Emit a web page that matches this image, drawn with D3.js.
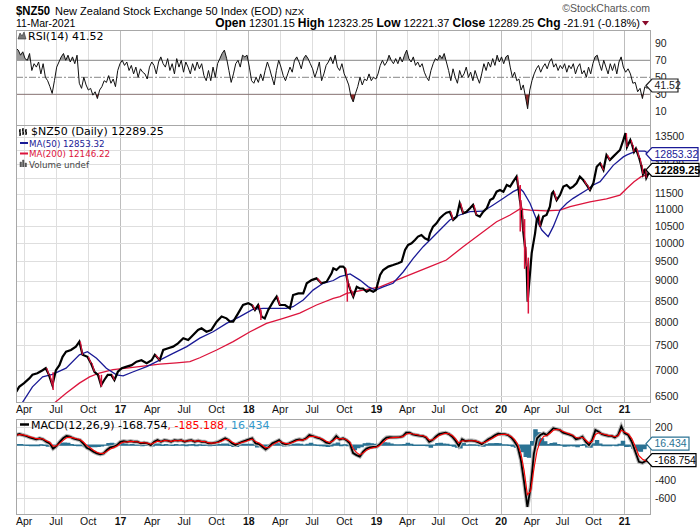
<!DOCTYPE html>
<html><head><meta charset="utf-8">
<script src="https://cdn.jsdelivr.net/npm/d3@7/dist/d3.min.js"></script>
<style>
body{margin:0;background:#fff;}
svg text{font-family:"Liberation Sans",Arial,sans-serif;}
svg text.dv{font-family:"DejaVu Sans",Verdana,sans-serif;}
</style></head><body>
<svg id="chart" width="700" height="530"></svg>
<script>
// ---------------- DATA ----------------
const priceDates=["2016-03-11","2016-03-19","2016-04-02","2016-04-17","2016-04-26","2016-05-10","2016-05-25","2016-06-03","2016-06-12","2016-06-22","2016-07-02","2016-07-12","2016-07-21","2016-07-31","2016-08-14","2016-08-28","2016-09-07","2016-09-16","2016-09-30","2016-10-10","2016-10-20","2016-10-30","2016-11-08","2016-11-17","2016-11-27","2016-12-07","2016-12-16","2016-12-26",
"2017-01-06","2017-01-20","2017-02-03","2017-02-17","2017-03-03","2017-03-18","2017-04-01","2017-04-10","2017-04-24","2017-05-04","2017-05-18","2017-06-01","2017-06-15","2017-06-30","2017-07-14","2017-07-28","2017-08-11","2017-08-21","2017-09-04","2017-09-18","2017-10-03","2017-10-17","2017-10-31","2017-11-10","2017-11-19","2017-12-03","2017-12-17",
"2018-01-01","2018-01-11","2018-01-20","2018-01-29","2018-02-08","2018-02-17","2018-02-27","2018-03-13","2018-03-23","2018-04-01","2018-04-16","2018-04-30","2018-05-09","2018-05-24","2018-06-07","2018-06-17","2018-07-01","2018-07-15","2018-07-29","2018-08-13","2018-08-27","2018-09-01","2018-09-10","2018-09-20","2018-09-29","2018-10-04","2018-10-13","2018-10-20","2018-10-28","2018-11-07","2018-11-16","2018-11-25","2018-12-05","2018-12-14","2018-12-24",
"2019-01-01","2019-01-13","2019-01-22","2019-02-06","2019-02-20","2019-03-07","2019-03-17","2019-03-27","2019-04-05","2019-04-15","2019-04-25","2019-05-04","2019-05-14","2019-05-24","2019-06-03","2019-06-08","2019-06-17","2019-06-27","2019-07-07","2019-07-17","2019-07-26","2019-08-05","2019-08-15","2019-08-25","2019-09-03","2019-09-13","2019-09-23","2019-10-03","2019-10-12","2019-10-22","2019-11-01","2019-11-11","2019-11-21","2019-12-01","2019-12-10","2019-12-20","2019-12-30",
"2020-01-09","2020-01-19","2020-01-29","2020-02-07","2020-02-17","2020-02-22","2020-02-27","2020-03-03","2020-03-08","2020-03-13","2020-03-18","2020-03-21","2020-03-28","2020-04-02","2020-04-07","2020-04-12","2020-04-17","2020-04-22","2020-04-27","2020-05-06","2020-05-16","2020-05-26","2020-06-01","2020-06-05","2020-06-15","2020-06-25","2020-07-05","2020-07-15","2020-07-25","2020-08-03","2020-08-13","2020-08-23","2020-09-02","2020-09-12","2020-09-22","2020-10-02","2020-10-12","2020-10-22","2020-11-01","2020-11-10","2020-11-20","2020-11-30","2020-12-10","2020-12-20","2020-12-30",
"2021-01-05","2021-01-09","2021-01-18","2021-01-23","2021-01-28","2021-02-02","2021-02-11","2021-02-16","2021-02-21","2021-02-26","2021-03-02","2021-03-07","2021-03-11"];
const priceClose=[6580,6670,6740,6830,6900,6930,6990,7030,6900,6700,6990,7090,7260,7365,7400,7470,7575,7300,7260,7130,6960,6900,6700,6800,6900,6900,6800,6960,
7030,7060,7090,7160,7190,7130,7190,7300,7190,7400,7435,7470,7540,7650,7610,7720,7830,7865,7790,7830,8015,8130,8090,8015,8015,8205,8400,
8440,8400,8285,8400,8130,8090,8285,8480,8600,8400,8400,8320,8640,8680,8680,8930,9010,9055,8930,8970,9185,9315,9270,9360,9360,9315,8930,8760,8600,8840,8800,8800,8720,8760,8720,
8760,9140,9270,9360,9400,9450,9490,9810,9950,9995,10090,10185,10230,10135,10090,10280,10475,10575,10725,10825,10895,10925,10675,10775,11190,10880,10925,11030,11135,10825,10775,10925,11030,11290,11345,11560,11615,
11560,11780,11725,11890,12060,11725,11290,10975,10330,9900,9360,8480,9185,9720,10000,10280,10675,10775,10475,10775,10825,11080,11505,11560,11290,11450,11725,11780,11670,11725,11835,12060,11945,11780,11615,11835,12400,12520,12290,12820,12640,12760,12880,13000,13370,
13630,13110,13370,13185,12930,13050,12710,12460,12150,12330,12020,12150,12289.25];

// notable intraday ranges (sell-off spikes)
const spikeDates=["2016-06-24","2016-11-09","2018-02-06","2018-10-11","2020-02-28","2020-03-12","2020-03-23"];
const spikeHigh=[6950,6900,8290,9100,11780,10700,9600];
const spikeLow=[6611,6670,8050,8480,10330,9300,8200];

const ma50Dates=["2016-03-20","2016-04-26","2016-05-25","2016-06-22","2016-07-31","2016-09-07","2016-09-30","2016-10-26","2016-11-23","2016-12-22","2017-01-10","2017-02-08","2017-03-18","2017-04-24","2017-06-01","2017-07-10","2017-08-16","2017-09-23","2017-10-31","2017-12-08","2018-01-15","2018-02-13","2018-03-13","2018-04-20","2018-05-09","2018-06-07","2018-07-05","2018-08-03","2018-09-01","2018-09-20","2018-10-19","2018-11-16","2018-12-10","2018-12-31","2019-01-22","2019-02-20","2019-03-22","2019-04-20","2019-05-19","2019-06-08","2019-07-07","2019-08-05","2019-09-03","2019-10-03","2019-11-11","2019-12-10","2020-01-09","2020-02-07","2020-02-27","2020-03-08","2020-03-28","2020-04-17","2020-05-02","2020-05-21","2020-06-05","2020-06-25","2020-07-15","2020-08-03","2020-09-12","2020-10-02","2020-10-22","2020-11-30","2020-12-30","2021-01-09","2021-02-02","2021-02-26","2021-03-11"];
const ma50Values=[6300,6670,6860,6910,7030,7300,7365,7230,7030,6900,6880,6960,7060,7190,7330,7470,7650,7790,7975,8130,8300,8320,8320,8320,8360,8520,8760,8930,9000,9100,9170,9010,8840,8760,8840,8930,9225,9580,9900,10090,10375,10675,10825,10925,10940,11135,11345,11560,11670,11560,11190,10675,10375,10185,10475,10975,11190,11345,11615,11779,11890,12450,12750,12820,12960,12960,12853.32];

const ma200Dates=["2016-06-27","2016-07-31","2016-09-07","2016-10-06","2016-11-03","2016-12-12","2017-01-20","2017-03-08","2017-04-24","2017-06-11","2017-07-19","2017-08-16","2017-10-03","2017-11-19","2018-01-06","2018-02-22","2018-04-11","2018-05-28","2018-07-15","2018-09-01","2018-09-20","2018-10-09","2018-11-25","2019-01-13","2019-03-02","2019-04-20","2019-06-08","2019-07-26","2019-09-13","2019-11-01","2019-12-20","2020-01-29","2020-02-27","2020-03-28","2020-05-16","2020-06-25","2020-07-25","2020-09-22","2020-11-10","2020-12-20","2021-01-09","2021-01-28","2021-02-16","2021-03-11"];
const ma200Values=[6370,6550,6740,6860,6935,7000,7030,7070,7110,7135,7160,7240,7400,7575,7790,7975,8090,8210,8400,8560,8600,8680,8760,8840,9010,9185,9360,9535,9900,10250,10620,10825,11010,10975,10950,10975,11080,11230,11330,11450,11670,11890,12060,12146.22];

// RSI(14), evenly spaced over the period
const rsiValues=[84,82,76,80,72,70,78,58,66,62,68,54,66,50,46,39,31,46,62,68,
74,78,70,76,68,74,66,76,43,37,50,41,35,37,29,33,25,35,39,46,
44,52,43,48,39,58,66,70,64,68,58,64,54,62,50,60,56,54,48,62,
68,64,54,68,74,66,62,72,58,66,54,72,62,70,56,68,62,54,66,58,
68,60,66,52,46,58,46,62,50,66,72,78,82,72,58,44,54,66,70,62,
76,74,76,62,46,43,50,44,54,46,58,68,60,50,41,58,70,62,52,46,
54,62,56,70,74,68,60,72,76,72,66,60,50,58,68,46,54,64,68,74,
66,76,62,58,66,54,48,41,27,21,31,39,50,41,48,46,54,46,50,48,
54,64,70,64,68,76,70,66,72,66,74,68,76,82,72,68,74,64,68,62,
66,56,50,46,58,66,72,70,76,72,78,68,58,46,60,50,43,58,50,54,
62,50,56,46,58,50,43,54,66,58,68,62,72,64,76,68,74,66,74,76,
62,50,56,46,48,35,41,27,13,35,46,54,60,64,56,62,66,60,68,72,
62,66,58,64,60,66,56,64,60,66,54,62,66,54,58,50,62,54,66,74,
76,66,58,70,62,54,66,58,66,54,68,74,62,56,60,54,43,44,33,37,
25,39,37,41.52];

// MACD(12,26,9) line and signal, evenly spaced over the period
const macdValues=[113,124,113,102,87,76,64,76,64,37,19,-40,-11,37,76,102,94,76,64,56,
15,-30,-49,-76,-94,-105,-94,-56,-26,-19,0,37,45,37,45,37,37,19,26,19,
0,37,56,37,56,49,37,56,49,56,37,49,56,37,49,37,37,19,19,26,
37,56,76,56,19,0,19,37,49,64,76,19,11,-19,-49,-19,19,37,56,19,
8,19,37,56,64,56,76,113,102,87,76,56,26,19,56,102,64,76,56,19,
-90,-113,-130,-75,-38,-26,-22,-19,10,56,85,90,87,87,90,100,140,140,120,113,
105,102,85,35,56,94,124,132,139,124,94,49,-10,65,45,50,50,45,30,10,
37,65,85,110,128,122,122,113,85,40,-20,-170,-420,-697,-480,-100,76,113,132,113,
150,190,180,170,140,128,118,103,65,76,94,37,0,56,169,150,122,113,103,103,
85,113,210,132,113,37,-76,-189,-200,-177,-168.754];
const signalValues=[108,118,115,107,95,84,72,74,68,49,31,-12,-11,18,53,82,89,81,71,62,
34,-4,-31,-58,-80,-95,-94,-71,-44,-29,-12,17,34,36,41,39,38,27,26,22,
9,26,44,40,50,49,42,50,49,53,43,47,52,43,47,41,39,27,22,24,
32,46,64,59,35,14,17,29,41,55,68,39,22,-3,-31,-24,2,23,43,29,
16,18,29,45,56,56,68,95,99,92,82,66,42,28,45,79,70,74,63,37,
-39,-83,-111,-89,-58,-39,-29,-23,-3,32,64,80,84,86,88,95,122,133,125,118,
110,105,93,58,57,79,106,122,132,127,107,72,23,48,46,48,49,47,37,21,
31,51,71,94,114,119,121,116,97,63,13,-97,-291,-560,-520,-270,-62,42,96,107,
133,167,175,172,153,138,126,112,84,79,88,57,23,43,119,138,128,119,109,105,
93,105,168,146,126,73,-16,-120,-160,-180,-185.188];

const priceTicks=[6500,7000,7500,8000,8500,9000,9500,10000,10500,11000,11500,12000,12500,13000,13500];
const priceLabels=[6500,7000,7500,8000,8500,9000,9500,10000,10500,11000,11500,12500,13500];
const rsiTicks=[90,70,50,30,10];
const macdTicks=[200,0,-200,-400,-600];
const macdLabels=[200,-400,-600];
const periodStart="2016-03-10", periodEnd="2021-03-11";

// ---------------- CHART ----------------
const parse=d3.timeParse("%Y-%m-%d");
const svg=d3.select("#chart");
const L=16,R=650;
const rsiP={top:30,bot:125}, prP={top:125,bot:402}, mP={top:419,bot:514};

const x=d3.scaleTime()
  .domain([parse("2016-03-10"),parse("2017-01-01"),parse("2018-01-01"),parse("2019-01-01"),parse("2020-01-01"),parse("2021-01-01"),parse("2021-03-12")])
  .range([L,120,248.3,376,500.7,624,R]);
const yR=d3.scaleLinear().domain([30,70]).range([94.3,60.3]);
const yP=d3.scaleLog().domain([6500,13000]).range([396,150]);
const yM=d3.scaleLinear().domain([-600,200]).range([498.3,427.3]);

const tickDates=d3.timeMonth.range(new Date(2016,3,1),new Date(2021,1,1),3);
const t0=parse(periodStart), t1=parse(periodEnd);
const even=(n)=>{const s=d3.scaleLinear().domain([0,n-1]).range([+t0,+t1]);return d3.range(n).map(i=>new Date(s(i)));};
const rsiDates=even(rsiValues.length);
const macdDates=even(macdValues.length);

const defs=svg.append("defs");
function clip(id,x0,y0,w,h){defs.append("clipPath").attr("id",id).append("rect").attr("x",x0).attr("y",y0).attr("width",w).attr("height",h);}
clip("cR",L,rsiP.top,R-L,rsiP.bot-rsiP.top);
clip("cP",L,prP.top,R-L,prP.bot-prP.top);
clip("cM",L,mP.top,R-L,mP.bot-mP.top);
clip("cHi",L,rsiP.top,R-L,yR(70)-rsiP.top);
clip("cLo",L,yR(30),R-L,rsiP.bot-yR(30));

function vgrid(p){
  svg.append("g").selectAll("line").data(tickDates).join("line")
    .attr("x1",d=>Math.round(x(d))+0.5).attr("x2",d=>Math.round(x(d))+0.5).attr("y1",p.top).attr("y2",p.bot)
    .attr("stroke",d=>d.getMonth()===0?"#bdbdbd":"#dedede").attr("stroke-width",1);
}
function hgrid(vals,scale,p,color){
  svg.append("g").selectAll("line").data(vals).join("line")
    .attr("x1",L).attr("x2",R).attr("y1",d=>Math.round(scale(d))+0.5).attr("y2",d=>Math.round(scale(d))+0.5)
    .attr("stroke",color||"#dedede");
}
function border(p){svg.append("rect").attr("x",L+0.5).attr("y",p.top+0.5).attr("width",R-L).attr("height",p.bot-p.top).attr("fill","none").attr("stroke","#a8a8a8");}
function rightAxis(scale,vals){
  const g=svg.append("g").attr("transform",`translate(${R},0)`)
    .call(d3.axisRight(scale).tickValues(vals).tickFormat(d=>String(d)).tickSize(0).tickPadding(5));
  g.select(".domain").remove();
  g.selectAll("text").attr("font-size",10.5).attr("fill","#222").style("font-family","'Liberation Sans',Arial,sans-serif");
}
function dateAxis(yPos){
  const g=svg.append("g").attr("transform",`translate(0,${yPos})`)
    .call(d3.axisBottom(x).tickValues(tickDates).tickSize(0).tickPadding(4)
      .tickFormat(d=>d.getMonth()===0?d3.timeFormat("%y")(d):d3.timeFormat("%b")(d)));
  g.select(".domain").remove();
  g.selectAll("text").attr("font-size",10.5).attr("fill","#111")
    .attr("font-weight",d=>d.getMonth()===0?"bold":"normal")
    .style("font-family","'Liberation Sans',Arial,sans-serif");
}
function valueBox(yv,txt,stroke,color,bold,w){
  const tip=646,bx=652,h=6.5;
  svg.append("path").attr("d",`M${tip},${yv}L${bx},${yv-h}L${bx+w},${yv-h}L${bx+w},${yv+h}L${bx},${yv+h}Z`)
    .attr("fill","#fff").attr("stroke",stroke).attr("stroke-width",1.2);
  svg.append("text").attr("x",bx+2.5).attr("y",yv).attr("dy","0.36em").attr("font-size",bold?11:10.5)
    .attr("font-weight",bold?"bold":"normal").attr("fill",color).text(txt);
}

// ---------- header ----------
svg.append("text").attr("x",16).attr("y",15).attr("font-size",12.5).attr("font-weight","bold").attr("textLength",34).attr("lengthAdjust","spacingAndGlyphs").text("$NZ50");
svg.append("text").attr("x",55).attr("y",15).attr("font-size",11).text("New Zealand Stock Exchange 50 Index (EOD)");
svg.append("text").attr("x",285).attr("y",15).attr("font-size",9.5).text("NZX");
svg.append("text").attr("x",16).attr("y",27).attr("font-size",10.5).text("11-Mar-2021");
svg.append("text").attr("x",650).attr("y",12).attr("font-size",10.5).attr("text-anchor","end").attr("fill","#555").text("©StockCharts.com");
const hdr=svg.append("text").attr("x",640).attr("y",27).attr("text-anchor","end").attr("font-size",11);
[["Open",1],[" 12301.15 ",0],["High",1],[" 12323.25 ",0],["Low",1],[" 12221.37 ",0],["Close",1],[" 12289.25 ",0],["Chg",1],[" -21.91 (-0.18%)",0]]
  .forEach(([t,b])=>hdr.append("tspan").attr("font-weight",b?"bold":"normal").attr("font-size",b?12:11).text(t));
svg.append("path").attr("d","M642,21L649,21L645.5,25.5Z").attr("fill","#8a0a2a");

// ---------- RSI panel ----------
vgrid(rsiP);
svg.append("g").selectAll("line").data([70,30]).join("line")
  .attr("x1",L).attr("x2",R).attr("y1",d=>yR(d)).attr("y2",d=>yR(d)).attr("stroke","#888");
svg.append("line").attr("x1",L).attr("x2",R).attr("y1",yR(50)).attr("y2",yR(50)).attr("stroke","#888").attr("stroke-dasharray","7,2,2,2");
const rx=(d,i)=>x(rsiDates[i]);
svg.append("path").datum(rsiValues).attr("clip-path","url(#cHi)")
  .attr("d",d3.area().x(rx).y0(yR(70)).y1(d=>yR(d))).attr("fill","#9a9a9a");
svg.append("path").datum(rsiValues).attr("clip-path","url(#cLo)")
  .attr("d",d3.area().x(rx).y0(yR(30)).y1(d=>yR(d))).attr("fill","#8c2a2a");
svg.append("path").datum(rsiValues).attr("clip-path","url(#cR)")
  .attr("d",d3.line().x(rx).y(d=>yR(d))).attr("fill","none").attr("stroke","#111").attr("stroke-width",1);
border(rsiP);
rightAxis(yR,rsiTicks);
svg.append("path").attr("d","M18,39L20,33L22,36L24,32L26,39Z").attr("fill","#777").attr("stroke","#333").attr("stroke-width",0.6);
svg.append("text").attr("class","dv").attr("x",28).attr("y",39.5).attr("font-size",11).text("RSI(14) 41.52");
valueBox(yR(41.52)+1,"41.52","#222","#222",false,26);

// ---------- Price panel ----------
vgrid(prP);
hgrid(priceTicks,yP,prP);
const gp=svg.append("g").attr("clip-path","url(#cP)");
const pd=priceDates.map(parse);
gp.append("path").datum(ma200Values).attr("d",d3.line().x((d,i)=>x(parse(ma200Dates[i]))).y(d=>yP(d)))
  .attr("fill","none").attr("stroke","#dc143c").attr("stroke-width",1.3);
gp.append("path").datum(ma50Values).attr("d",d3.line().x((d,i)=>x(parse(ma50Dates[i]))).y(d=>yP(d)))
  .attr("fill","none").attr("stroke","#1a1a96").attr("stroke-width",1.3);
gp.append("path").datum(priceClose).attr("d",d3.line().x((d,i)=>x(pd[i])).y(d=>yP(d)))
  .attr("fill","none").attr("stroke","#000").attr("stroke-width",2.2).attr("stroke-linejoin","miter");
const downs=d3.range(1,priceClose.length).filter(i=>priceClose[i]<priceClose[i-1]*0.988);
gp.append("g").selectAll("line").data(downs).join("line")
  .attr("x1",i=>x(pd[i-1])+1).attr("y1",i=>yP(priceClose[i-1])).attr("x2",i=>x(pd[i])).attr("y2",i=>yP(priceClose[i]))
  .attr("stroke","#dc143c").attr("stroke-width",1.2);
gp.append("g").selectAll("line").data(spikeDates).join("line")
  .attr("x1",d=>x(parse(d))).attr("x2",d=>x(parse(d)))
  .attr("y1",(d,i)=>yP(spikeHigh[i])).attr("y2",(d,i)=>yP(spikeLow[i]))
  .attr("stroke","#dc143c").attr("stroke-width",1.5);
border(prP);
rightAxis(yP,priceLabels);
svg.append("path").attr("d","M20,129v7M19,131h1M20,134h1M23,128v7M22,130h1M23,133h1M26,129v6M25,131h1M26,133h1").attr("stroke","#000").attr("stroke-width",1.3);
svg.append("text").attr("class","dv").attr("x",31).attr("y",135).attr("font-size",11).text("$NZ50 (Daily) 12289.25");
svg.append("line").attr("x1",20).attr("x2",28).attr("y1",143).attr("y2",143).attr("stroke","#1a1a96").attr("stroke-width",2);
svg.append("text").attr("class","dv").attr("x",29).attr("y",146.5).attr("font-size",8.7).attr("fill","#1a1a96").text("MA(50) 12853.32");
svg.append("line").attr("x1",20).attr("x2",28).attr("y1",153.5).attr("y2",153.5).attr("stroke","#dc143c").attr("stroke-width",2);
svg.append("text").attr("class","dv").attr("x",29).attr("y",157).attr("font-size",8.7).attr("fill","#dc143c").text("MA(200) 12146.22");
svg.append("path").attr("d","M20,167v-5h1.5v5M22.5,167v-7h1.5v7M25,167v-4h1.5v4").attr("fill","#555").attr("stroke","#555").attr("stroke-width",0.5);
svg.append("text").attr("class","dv").attr("x",29).attr("y",167.5).attr("font-size",8.7).attr("fill","#444").text("Volume undef");
valueBox(yP(12853.32),"12853.32","#1a1a96","#1a1a96",false,46);
valueBox(yP(12289.25),"12289.25","#000","#000",true,47);
dateAxis(prP.bot);

// ---------- MACD panel ----------
vgrid(mP);
hgrid(macdTicks,yM,mP);
const gm=svg.append("g").attr("clip-path","url(#cM)");
const hist=macdValues.map((m,i)=>m-signalValues[i]);
const mx=(d,i)=>x(macdDates[i]);
gm.append("path").datum(hist).attr("d",d3.area().x(mx).y0(yM(0)).y1(d=>yM(d)).curve(d3.curveStepAfter))
  .attr("fill","#2b7394").attr("stroke","#2b7394").attr("stroke-width",1.2);
gm.append("path").datum(macdValues).attr("d",d3.line().x(mx).y(d=>yM(d))).attr("fill","none").attr("stroke","#b5b5b5").attr("stroke-width",4);
gm.append("path").datum(macdValues).attr("d",d3.line().x(mx).y(d=>yM(d))).attr("fill","none").attr("stroke","#000").attr("stroke-width",1.8);
gm.append("path").datum(signalValues).attr("d",d3.line().x(mx).y(d=>yM(d))).attr("fill","none").attr("stroke","#ff0000").attr("stroke-width",1.1);
border(mP);
rightAxis(yM,macdLabels);
svg.append("line").attr("x1",20).attr("x2",29).attr("y1",424.5).attr("y2",424.5).attr("stroke","#000").attr("stroke-width",2.5);
const ml=svg.append("text").attr("class","dv").attr("x",31).attr("y",428.5).attr("font-size",11);
ml.append("tspan").attr("fill","#000").text("MACD(12,26,9) -168.754");
ml.append("tspan").attr("fill","#ff0000").text(", -185.188");
ml.append("tspan").attr("fill","#3399cc").text(", 16.434");
valueBox(yM(16.434),"16.434","#2b7394","#2b7394",false,37);
valueBox(yM(-168.754),"-168.754","#000","#000",false,44);
dateAxis(mP.bot);
</script>
</body></html>
